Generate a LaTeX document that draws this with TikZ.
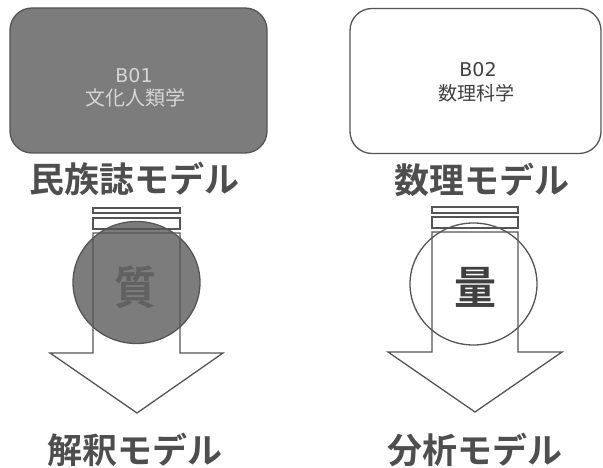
\documentclass[tikz,border=0pt]{standalone}
\usepackage{fontspec}
\newfontfamily\jp{Noto Sans CJK JP}
\newfontfamily\jpb{Noto Sans CJK JP Bold}
\newfontfamily\latinsans{DejaVu Sans}
\definecolor{ink}{HTML}{555555}
\definecolor{boxgray}{HTML}{7C7C7C}
\definecolor{lighttext}{HTML}{D6D6D6}
\definecolor{headtext}{HTML}{4E4E4E}
\tikzset{
  field/.style={draw=ink, line width=1.3pt, rounded corners=22pt, minimum width=257pt, minimum height=145pt, inner sep=0pt},
  code/.style={font=\latinsans\fontsize{19}{19}\selectfont, inner sep=0pt},
  subject/.style={font=\jp\fontsize{20}{20}\selectfont, inner sep=0pt},
  heading/.style={text=headtext, font=\jpb\fontsize{35}{35}\selectfont, inner sep=0pt},
  arrowline/.style={draw=ink, line width=1.3pt, line join=miter},
  bigchar/.style={font=\jpb\fontsize{42}{42}\selectfont, inner sep=0pt, yscale=1.08},
}
\begin{document}
\begin{tikzpicture}[x=1pt,y=-1pt]
\useasboundingbox (0,0) rectangle (603,468);
\fill[white] (0,0) rectangle (603,468);

% top boxes
\node[field, fill=boxgray] (b1) at (138.5,80.5) {};
\node[code, text=lighttext] (b1c) at (134,76) {B01};
\node[subject, text=lighttext] (b1s) at (135,98) {文化人類学};
\node[field, fill=white, minimum width=251pt] (b2) at (475.5,81) {};
\node[code, text=black!75] (b2c) at (478,70) {B02};
\node[subject, text=black!75, font=\jp\fontsize{19}{19}\selectfont] (b2s) at (476,93) {数理科学};

% headings
\node[heading] (h1) at (135,179) {民族誌モデル};
\node[heading] (h2) at (482,180) {数理モデル};
\node[heading] (h3) at (135,450) {解釈モデル};
\node[heading] (h4) at (475,450) {分析モデル};

% left arrow
\fill[white] (93,233) -- (180,233) -- (180,353) -- (223,353) -- (137,413) -- (50,353) -- (93,353) -- cycle;
\draw[ink, line width=1.3pt, fill=boxgray] (136.5,282.5) ellipse [x radius=63.5pt, y radius=61pt];
\node[bigchar, text=black!62] (q1) at (135,287) {質};
\draw[arrowline] (93,233) -- (180,233) -- (180,353) -- (223,353) -- (137,413) -- (50,353) -- (93,353) -- cycle;
\draw[arrowline] (93,208) rectangle (180,213);
\draw[arrowline] (93,218) rectangle (180,229);

% right arrow
\draw[arrowline, fill=white] (432,232) -- (518,232) -- (518,352) -- (562,352) -- (475,412) -- (388,352) -- (432,352) -- cycle;
\draw[ink, line width=1.3pt] (473.5,284) ellipse [x radius=63.5pt, y radius=61pt];
\node[bigchar, text=black!75] (q2) at (475,287) {量};
\draw[arrowline] (432,207) rectangle (518,213);
\draw[arrowline] (432,217) rectangle (518,228);
\end{tikzpicture}
\end{document}
